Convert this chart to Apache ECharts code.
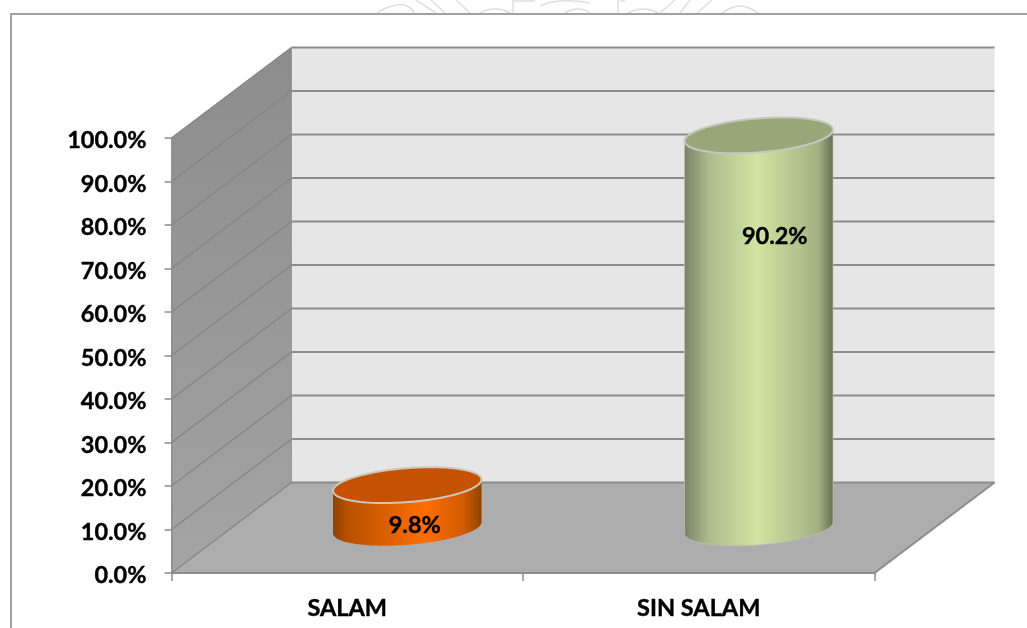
<!DOCTYPE html>
<html><head><meta charset="utf-8">
<style>html,body{margin:0;padding:0;background:#fff}#c{width:1027px;height:628px}</style>
<script src="https://cdn.jsdelivr.net/npm/echarts@6/dist/echarts.min.js"></script>
</head><body><div id="c"></div>
<script>
const categories = ['SALAM', 'SIN SALAM'];
const values = [9.8, 90.2];
const tickValues = [0, 10, 20, 30, 40, 50, 60, 70, 80, 90, 100];

// 3D projection of the box (pixels of depth)
const DX = 120, DY = -90.5, FONT = 'Lato, "Open Sans", sans-serif';
const STYLES = [
  {top: '#c45200', stroke: '#cfc6bc', side: 'rgba(0,0,0,0)', ox: 7.5, oy: 40.5, stops: [[0, '#8c4100'], [0.1, '#b85000'], [0.62, '#ff6e00'], [0.88, '#d05a00'], [1, '#8f4200']]},
  {top: '#99a678', stroke: '#c6c8c0', side: 'rgba(190,195,180,0.7)', ox: 16, oy: 101, stops: [[0, '#77836a'], [0.17, '#aebc8e'], [0.49, '#d2e4a2'], [0.9, '#a3b083'], [1, '#646f52']]}
];
const RX = 74.5, RY = 17, TILT = -0.08;

// faint watermark remnants above the frame
const WATERMARK = [
  [[377,13],[392,6],[407,6],[414,13]], [[416,0],[436,13]], [[431,0],[445,13]], [[456,0],[470,13]],
  [[480,13],[495,9],[510,13]], [[513,0],[513,13]], [[514,1],[535,1]], [[540,6],[560,1],[590,3]],
  [[565,13],[578,9],[590,13]], [[618,0],[618,13]], [[620,1],[625,1]], [[628,13],[643,9],[658,13]],
  [[660,13],[675,0]], [[680,13],[690,0]], [[697,13],[712,0]], [[722,13],[740,6],[758,13]]
];

function ellipsePt(cx, cy, t) {
  const x = RX * Math.cos(t), y = RY * Math.sin(t);
  return [cx + x * Math.cos(TILT) - y * Math.sin(TILT), cy + x * Math.sin(TILT) + y * Math.cos(TILT)];
}
function ellipsePts(cx, cy, from, to) {
  const out = [], n = 72;
  for (let i = 0; i <= n; i++) out.push(ellipsePt(cx, cy, from + (to - from) * i / n));
  return out;
}

const labelStyle = {color: '#000', fontFamily: FONT, fontWeight: 'bold', fontSize: 23.5, textBorderColor: '#000', textBorderWidth: 0.4};
const chart = echarts.init(document.getElementById('c'), null, {renderer: 'canvas'});
chart.setOption({
  animation: false,
  backgroundColor: '#fff',
  grid: {left: 171.5, right: 152.5, top: 138, bottom: 55, containLabel: false},
  graphic: WATERMARK.map(pts => ({type: 'polyline', z: -2, silent: true, shape: {points: pts, smooth: pts.length > 2 ? 0.5 : 0},
      style: {fill: 'none', stroke: '#dedede', lineWidth: 1.5}})).concat([
    {type: 'polyline', z: -1, silent: true, shape: {points: [[11, 628], [11, 14], [1027, 14]]}, style: {fill: 'none', stroke: '#a2a2a2', lineWidth: 2}}
  ]),
  xAxis: {
    type: 'category', data: categories, z: 5,
    axisLine: {lineStyle: {color: '#8c8c8c', width: 2}},
    axisTick: {show: true, length: 8, alignWithLabel: false, lineStyle: {color: '#8c8c8c', width: 1.5}},
    axisLabel: Object.assign({margin: 23}, labelStyle),
    splitLine: {show: false}
  },
  yAxis: {
    type: 'value', min: 0, max: 100, interval: 10, z: 5,
    axisLine: {show: true, lineStyle: {color: '#8c8c8c', width: 1.5}},
    axisTick: {show: true, length: 7, lineStyle: {color: '#8c8c8c', width: 1.5}},
    axisLabel: Object.assign({margin: 25, verticalAlign: 'top', lineHeight: 5, formatter: v => v.toFixed(1) + '%'}, labelStyle),
    splitLine: {show: false}
  },
  series: [
    { // walls and floor
      type: 'custom', z: 1, silent: true, clip: false, data: [[0, 0]],
      renderItem(params, api) {
        const c = params.coordSys, l = c.x, r = c.x + c.width;
        const y0 = api.coord([0, 0])[1], yT = api.coord([0, 100])[1];
        return {type: 'group', children: [
          {type: 'polygon', shape: {points: [[l + DX, y0 + DY], [r + DX, y0 + DY], [r + DX, yT + DY], [l + DX, yT + DY]]}, style: {fill: '#e6e6e6'}},
          {type: 'polygon', shape: {points: [[l, y0], [l + DX, y0 + DY], [l + DX, yT + DY], [l, yT]]},
            style: {fill: new echarts.graphic.LinearGradient(0, 0, 0, 1, [{offset: 0, color: '#8c8c8c'}, {offset: 1, color: '#a4a4a4'}]), stroke: '#a8a8a8', lineWidth: 1}},
          {type: 'polygon', shape: {points: [[l, y0], [r, y0], [r + DX, y0 + DY], [l + DX, y0 + DY]]}, style: {fill: '#adadad'}},
          {type: 'line', shape: {x1: r, y1: y0, x2: r + DX, y2: y0 + DY}, style: {stroke: '#8c8c8c', lineWidth: 2}},
          {type: 'line', shape: {x1: l + DX, y1: y0 + DY, x2: l + DX, y2: yT + DY}, style: {stroke: '#9a9a9a', lineWidth: 1}}
        ]};
      }
    },
    { // gridlines across side and back wall
      type: 'custom', z: 2, silent: true, clip: false, data: tickValues.map(t => [0, t]),
      renderItem(params, api) {
        const c = params.coordSys, l = c.x, r = c.x + c.width;
        const y = api.coord([0, api.value(1)])[1];
        return {type: 'group', children: [
          {type: 'line', shape: {x1: l, y1: y, x2: l + DX, y2: y + DY}, style: {stroke: '#858585', lineWidth: 1.4}},
          {type: 'line', shape: {x1: l + DX, y1: y + DY, x2: r + DX, y2: y + DY}, style: {stroke: '#8c8c8c', lineWidth: 2}}
        ]};
      }
    },
    { // cylinders
      type: 'custom', z: 3, clip: false,
      data: values.map((v, i) => [i, v]),
      encode: {x: 0, y: 1},
      renderItem(params, api) {
        const i = api.value(0), v = api.value(1), s = STYLES[i];
        const base = api.coord([i, 0]), head = api.coord([i, v]);
        const cx = base[0] + DX / 2, by = base[1] + DY / 2, ty = head[1] + DY / 2;
        const lt = ellipsePt(cx, ty, Math.PI), rt = ellipsePt(cx, ty, 0);
        const body = [lt].concat(ellipsePts(cx, by, Math.PI, 0), [rt]);
        const grad = new echarts.graphic.LinearGradient(0, 0, 1, 0, s.stops.map(p => ({offset: p[0], color: p[1]})));
        return {type: 'group', children: [
          {type: 'polygon', shape: {points: body}, style: {fill: grad, stroke: s.side, lineWidth: 1}},
          {type: 'polygon', shape: {points: ellipsePts(cx, ty, 0, Math.PI * 2)}, style: {fill: s.top, stroke: s.stroke, lineWidth: 2}},
          {type: 'text', x: cx + s.ox, y: ty + s.oy, style: {
            text: v.toFixed(1) + '%', fill: '#000', stroke: '#000', lineWidth: 0.4, font: 'bold 23.5px ' + FONT, align: 'center', verticalAlign: 'middle'}}
        ]};
      }
    }
  ]
});
</script></body></html>
